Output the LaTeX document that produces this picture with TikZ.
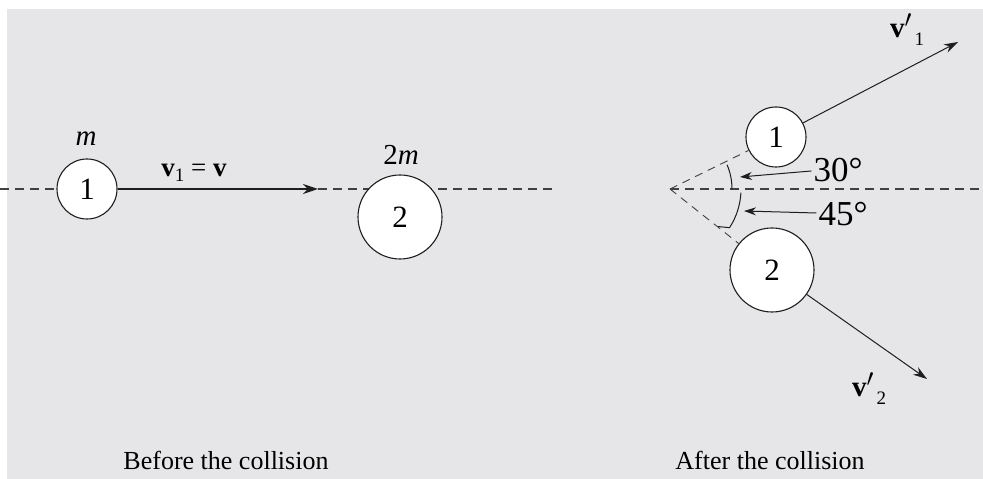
\documentclass[tikz,border=0pt]{standalone}
\usepackage{fontspec}
\setmainfont{Liberation Serif}
\usetikzlibrary{arrows.meta}
\definecolor{bggray}{HTML}{E6E6E8}
\definecolor{ink}{HTML}{1E1E1E}
\begin{document}
\begin{tikzpicture}[x=1pt,y=1pt,
  ball/.style={circle,draw=ink,line width=1.1pt,fill=white,inner sep=0pt,font=\fontsize{31}{31}\selectfont},
  axisdash/.style={draw=ink!85,line width=1.2pt,dash pattern=on 9pt off 6pt},
  slantdash/.style={draw=ink!85,line width=0.9pt,dash pattern=on 8pt off 6pt},
  vel/.style={draw=ink,line width=1pt,-{Stealth[length=14pt,width=9pt]}},
  small/.style={draw=ink,line width=1pt,-{Stealth[length=12pt,width=8pt]}},
  lbl/.style={font=\fontsize{29}{29}\selectfont,inner sep=0pt},
  captext/.style={font=\fontsize{26}{26}\selectfont,inner sep=0pt}
]
\useasboundingbox (0,0) rectangle (983,479);
\fill[white] (0,0) rectangle (983,479);
\fill[bggray] (7,0) rectangle (983,470);

% ---------- Before ----------
\coordinate (L0) at (0,290);
\coordinate (Atip) at (318,290);
\coordinate (Lend) at (555,290);
\draw[axisdash] (Atip) -- (Lend);
\node[ball,minimum size=60pt] (b1) at (87,290) {1};
\node[ball,minimum size=84pt] (b2) at (400,262) {2};
\draw[axisdash] (L0) -- (b1.west);
\draw[draw=ink,line width=1.8pt,-{Stealth[length=15pt,width=10pt]}] (b1.east) -- (Atip);
\node[lbl] (m1) at (86,340) {\textit{m}};
\node[lbl] (m2) at (401,324) {2\textit{m}};
\node[lbl,font=\fontsize{27}{27}\selectfont] (v1) at (194,306) {\textbf{v}\raisebox{-5pt}{\fontsize{19}{19}\selectfont 1}\ =\ \textbf{v}};
\node[captext] (capA) at (226,19) {Before the collision};

% ---------- After ----------
\coordinate (apex) at (670,290);
\coordinate (Rend) at (982,290);
\draw[axisdash] (apex) -- (Rend);
\node[ball,minimum size=60pt] (c1) at (776,342) {1};
\node[ball,minimum size=84pt] (c2) at (772,209) {2};
\draw[slantdash] (apex) -- (c1);
\draw[slantdash] (apex) -- (c2);
\coordinate (t1) at (958,437);
\coordinate (t2) at (927,100);
\draw[vel] (c1) -- (t1);
\draw[vel] (c2) -- (t2);
\node[lbl] (vp1) at (907,449) {\textbf{v}\raisebox{10pt}{$\prime$}\raisebox{-8pt}{\fontsize{19}{19}\selectfont\,1}};
\node[lbl] (vp2) at (869,90) {\textbf{v}\raisebox{10pt}{$\prime$}\raisebox{-8pt}{\fontsize{19}{19}\selectfont\,2}};
% angle arcs
\draw[ink,line width=1pt] ([shift={(0:62)}]apex) arc[start angle=0,end angle=23,radius=62];
\draw[ink,line width=1pt] ([shift={(-3:71)}]apex) arc[start angle=-3,end angle=-33,radius=71] -- ([shift={(-38:61)}]apex);
\node[lbl,font=\fontsize{35}{35}\selectfont] (a30) at (838,309) {30°};
\node[lbl,font=\fontsize{35}{35}\selectfont] (a45) at (843,265) {45°};
\coordinate (a30tip) at (740,302);
\coordinate (a45tip) at (744,268);
\draw[small] (a30.west) ++(-2,-1) -- (a30tip);
\draw[small] (a45.west) ++(-2,1) -- (a45tip);
\node[captext] (capB) at (770,19) {After the collision};
\end{tikzpicture}
\end{document}
